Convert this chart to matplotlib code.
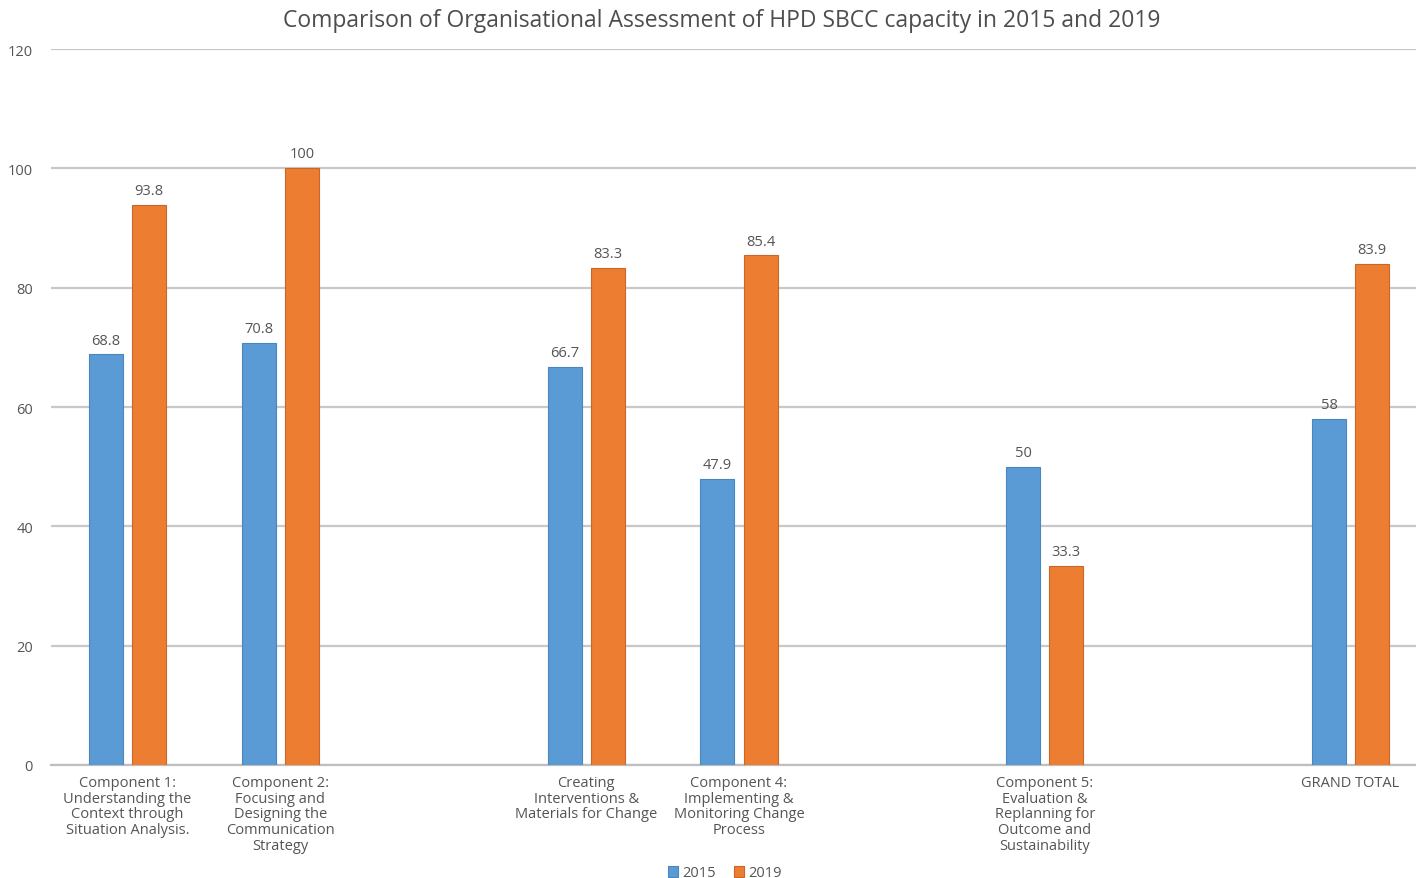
import numpy as np
import matplotlib
matplotlib.use("Agg")
import matplotlib.pyplot as plt

plt.rcParams['font.family'] = ['Open Sans', 'DejaVu Sans']

# nine slots on the category axis, three of them left empty
categories = [
    "Component 1:\nUnderstanding the\nContext through\nSituation Analysis.",
    "Component 2:\nFocusing and\nDesigning the\nCommunication\nStrategy",
    "",
    "Creating\nInterventions &\nMaterials for Change",
    "Component 4:\nImplementing &\nMonitoring Change\nProcess",
    "",
    "Component 5:\nEvaluation &\nReplanning for\nOutcome and\nSustainability",
    "",
    "GRAND TOTAL",
]
score_2015 = [68.8, 70.8, np.nan, 66.7, 47.9, np.nan, 50, np.nan, 58]
score_2019 = [93.8, 100, np.nan, 83.3, 85.4, np.nan, 33.3, np.nan, 83.9]
labels_2015 = ["68.8", "70.8", "", "66.7", "47.9", "", "50", "", "58"]
labels_2019 = ["93.8", "100", "", "83.3", "85.4", "", "33.3", "", "83.9"]

blue = "#5B9BD5"
orange = "#ED7D31"
text_grey = "#555555"

fig = plt.figure(figsize=(14.16, 8.79), dpi=100)
ax = fig.add_axes([51 / 1416, 1 - 766 / 879, (1427 - 51) / 1416, 716 / 879])

x = np.arange(len(categories))
w = 0.222
off = 0.141
b1 = ax.bar(x - off, score_2015, w, color=blue, edgecolor="#4A86BE",
            linewidth=0.8, label="2015", zorder=3)
b2 = ax.bar(x + off, score_2019, w, color=orange, edgecolor="#C9672A",
            linewidth=0.8, label="2019", zorder=3)
ax.bar_label(b1, labels=labels_2015, padding=5, fontsize=10.5, color=text_grey)
ax.bar_label(b2, labels=labels_2019, padding=5, fontsize=10.5, color=text_grey)

ax.set_xlim(-0.5, len(categories) - 0.5)
ax.set_ylim(0, 120)
ax.set_yticks(range(0, 121, 20))
ax.set_xticks(x)
ax.set_xticklabels(categories, fontsize=10.5, color=text_grey, linespacing=1.08)
ax.tick_params(axis="y", labelsize=10.5, labelcolor=text_grey, length=0, pad=13)
ax.tick_params(axis="x", length=0, pad=7)
ax.grid(axis="y", color="#C8C8C8", linewidth=1.6, zorder=0)
for side in ["top", "right", "left"]:
    ax.spines[side].set_visible(False)
ax.spines["bottom"].set_color("#BFBFBF")
ax.spines["bottom"].set_linewidth(1.6)

fig.text(722 / 1416, 1 - 21 / 879,
         "Comparison of Organisational Assessment of HPD SBCC capacity in 2015 and 2019",
         ha="center", va="center", fontsize=16.5, color="#4D4D4D")

fig.legend(handles=[b1, b2], loc="center", bbox_to_anchor=(725 / 1416, 1 - 874 / 879),
           ncol=2, frameon=False, fontsize=10.5, labelcolor=text_grey,
           handlelength=0.7, handleheight=0.7, handletextpad=0.3, columnspacing=1.2)

fig.savefig("out.png", dpi=100)
